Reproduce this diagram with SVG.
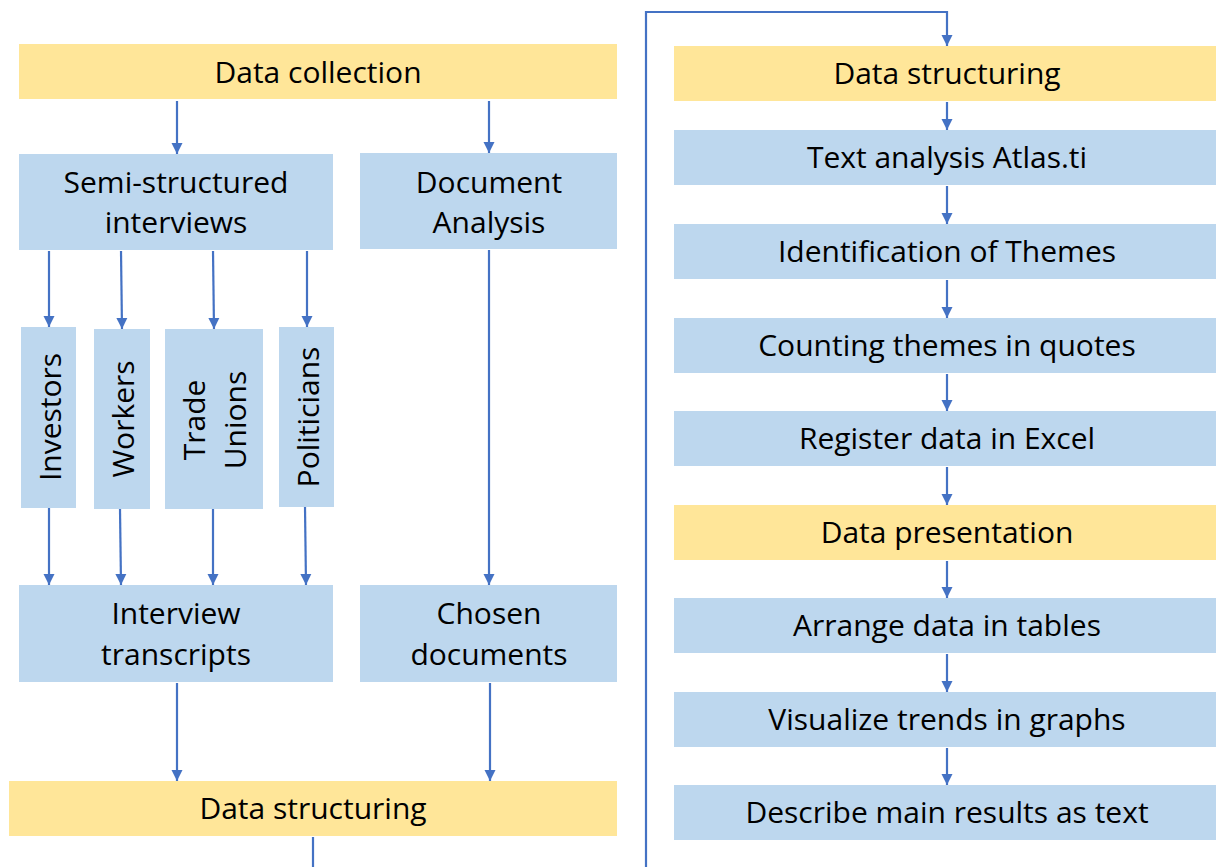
<svg xmlns="http://www.w3.org/2000/svg" width="1216" height="867" viewBox="0 0 1216 867">
<style>
.y{fill:#FFE699}
.b{fill:#BDD7EE}
text{font-family:"Open Sans",Lato,"Liberation Sans",sans-serif;font-size:30px;fill:#000;text-anchor:middle}
.c line,.c path{stroke:#4472C4;stroke-width:2.2;fill:none}
</style>
<defs>
<marker id="ah" markerUnits="userSpaceOnUse" markerWidth="12" markerHeight="12" viewBox="0 0 12 12" refX="11" refY="6" orient="auto">
<path d="M0,0.5 L11,6 L0,11.5 Z" fill="#4472C4"/>
</marker>
</defs>
<rect width="1216" height="867" fill="#fff"/>
<g id="data-collection"><rect class="y" x="19" y="44" width="598" height="55"/><text x="318" y="83">Data collection</text></g>
<g id="semi-structured"><rect class="b" x="19" y="154" width="314" height="96"/><text x="176" y="193">Semi-structured</text><text x="176" y="233">interviews</text></g>
<g id="document-analysis"><rect class="b" x="360" y="153" width="257" height="96"/><text x="489" y="193">Document</text><text x="489" y="233">Analysis</text></g>
<g id="investors"><rect class="b" x="21" y="327" width="55" height="181"/><text transform="translate(61,417) rotate(-90)">Investors</text></g>
<g id="workers"><rect class="b" x="94" y="329" width="56" height="180"/><text transform="translate(134,419) rotate(-90)">Workers</text></g>
<g id="trade-unions"><rect class="b" x="165" y="329" width="98" height="180"/><text transform="translate(205,420) rotate(-90)">Trade</text><text transform="translate(246,420) rotate(-90)">Unions</text></g>
<g id="politicians"><rect class="b" x="279" y="327" width="55" height="180"/><text transform="translate(319,417) rotate(-90)">Politicians</text></g>
<g id="interview-transcripts"><rect class="b" x="19" y="585" width="314" height="97"/><text x="176" y="624">Interview</text><text x="176" y="665">transcripts</text></g>
<g id="chosen-documents"><rect class="b" x="360" y="585" width="257" height="97"/><text x="489" y="624">Chosen</text><text x="489" y="665">documents</text></g>
<g id="data-structuring-left"><rect class="y" x="9" y="781" width="608" height="55"/><text x="313" y="819">Data structuring</text></g>
<g id="data-structuring-right"><rect class="y" x="674" y="46" width="542" height="55"/><text x="947" y="84">Data structuring</text></g>
<g id="text-analysis"><rect class="b" x="674" y="130" width="542" height="55"/><text x="947" y="168">Text analysis Atlas.ti</text></g>
<g id="identification"><rect class="b" x="674" y="224" width="542" height="55"/><text x="947" y="262">Identification of Themes</text></g>
<g id="counting"><rect class="b" x="674" y="318" width="542" height="55"/><text x="947" y="356">Counting themes in quotes</text></g>
<g id="register"><rect class="b" x="674" y="411" width="542" height="55"/><text x="947" y="449">Register data in Excel</text></g>
<g id="data-presentation"><rect class="y" x="674" y="505" width="542" height="55"/><text x="947" y="543">Data presentation</text></g>
<g id="arrange"><rect class="b" x="674" y="598" width="542" height="55"/><text x="947" y="636">Arrange data in tables</text></g>
<g id="visualize"><rect class="b" x="674" y="692" width="542" height="55"/><text x="947" y="730">Visualize trends in graphs</text></g>
<g id="describe"><rect class="b" x="674" y="785" width="542" height="55"/><text x="947" y="823">Describe main results as text</text></g>
<g id="connectors" class="c">
<line x1="177" y1="101" x2="177" y2="154" marker-end="url(#ah)"/>
<line x1="489" y1="101" x2="489" y2="153" marker-end="url(#ah)"/>
<line x1="49" y1="251" x2="49" y2="327" marker-end="url(#ah)"/>
<line x1="121" y1="251" x2="122" y2="329" marker-end="url(#ah)"/>
<line x1="213" y1="251" x2="214" y2="329" marker-end="url(#ah)"/>
<line x1="307" y1="251" x2="307" y2="327" marker-end="url(#ah)"/>
<line x1="49" y1="508" x2="49" y2="585" marker-end="url(#ah)"/>
<line x1="120" y1="509" x2="121" y2="585" marker-end="url(#ah)"/>
<line x1="213" y1="509" x2="213" y2="585" marker-end="url(#ah)"/>
<line x1="305" y1="507" x2="306" y2="585" marker-end="url(#ah)"/>
<line x1="489" y1="250" x2="489" y2="585" marker-end="url(#ah)"/>
<line x1="177" y1="683" x2="177" y2="781" marker-end="url(#ah)"/>
<line x1="490" y1="683" x2="490" y2="781" marker-end="url(#ah)"/>
<path d="M313,837 V890 H646 V12 H947 V46" marker-end="url(#ah)"/>
<line x1="947" y1="102" x2="947" y2="130" marker-end="url(#ah)"/>
<line x1="947" y1="186" x2="947" y2="224" marker-end="url(#ah)"/>
<line x1="947" y1="280" x2="947" y2="318" marker-end="url(#ah)"/>
<line x1="947" y1="374" x2="947" y2="411" marker-end="url(#ah)"/>
<line x1="947" y1="467" x2="947" y2="505" marker-end="url(#ah)"/>
<line x1="947" y1="561" x2="947" y2="598" marker-end="url(#ah)"/>
<line x1="947" y1="654" x2="947" y2="692" marker-end="url(#ah)"/>
<line x1="947" y1="748" x2="947" y2="785" marker-end="url(#ah)"/>
</g>
</svg>
